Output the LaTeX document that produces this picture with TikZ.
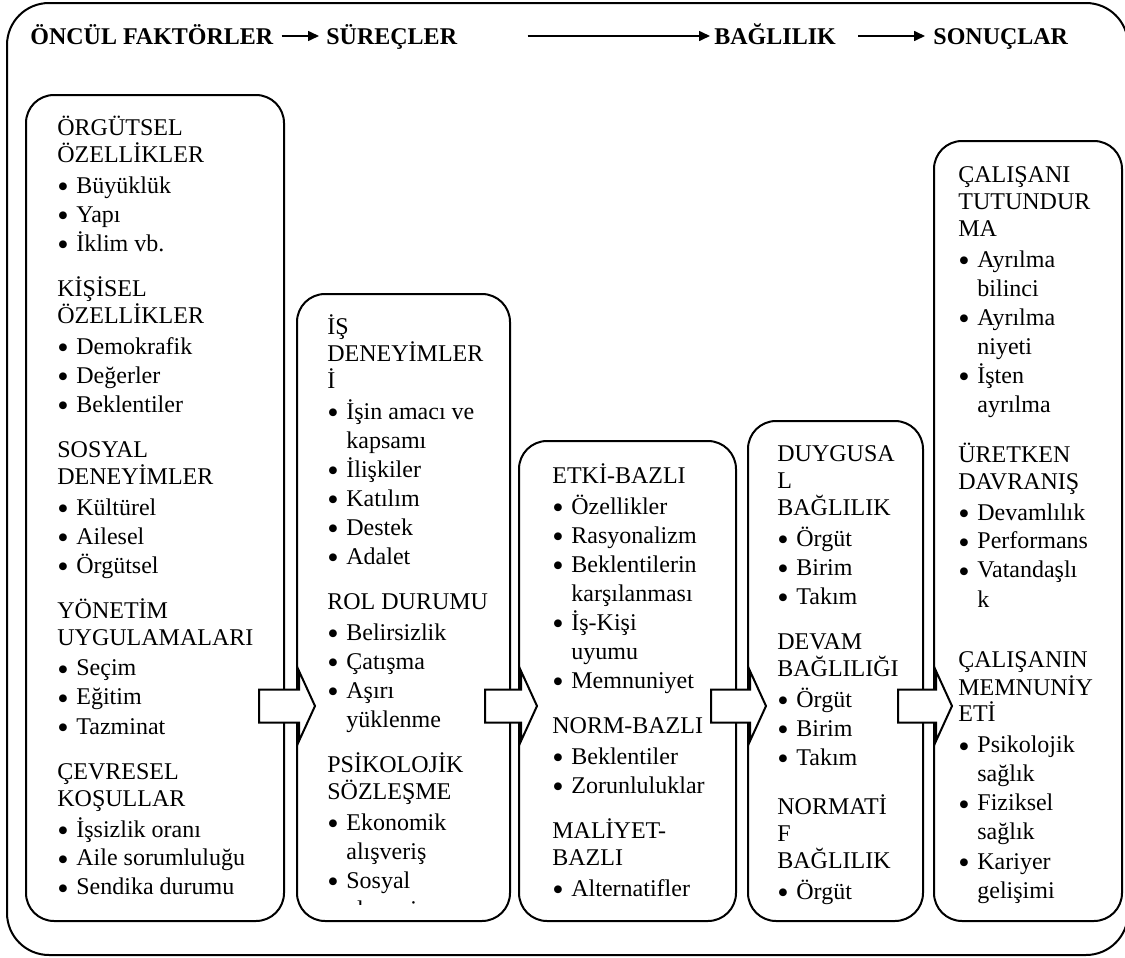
\documentclass[tikz,border=0pt]{standalone}
\usepackage{fontspec}
\setmainfont{Liberation Serif}
\usetikzlibrary{positioning,arrows.meta,calc}

\newcommand{\mad}{\makebox[9.5pt][l]{\raisebox{-2.4pt}[0pt][0pt]{\scalebox{1.35}{\textbullet}}}}
\newcommand{\gir}{\hspace*{9.5pt}}

\tikzset{
  kutu/.style={draw, line width=1pt, rounded corners=14pt, anchor=north west, inner sep=0pt},
  yazi/.style={anchor=base west, inner sep=0pt},
  baslik/.style={font=\fontsize{12pt}{14pt}\selectfont\bfseries, inner sep=0pt, text height=8pt, text depth=0pt, anchor=base west},
  ok/.style={line width=0.8pt, -{Triangle[length=5.5pt,width=5pt]}},
  blok/.style={draw, line width=1pt, fill=white, line join=miter},
}

\begin{document}
\begin{tikzpicture}[x=0.5pt, y=-0.5pt, font=\fontsize{12pt}{14.5pt}\selectfont]
\fill[white] (0,0) rectangle (1125,958);
\useasboundingbox (0,0) rectangle (1125,958);
\draw[line width=1pt, rounded corners=21pt] (7,3) rectangle (1128,955);

% ust satir
\node[baslik] (onc) at (30,44) {ÖNCÜL FAKTÖRLER};
\node[baslik] (sur) at (326,44) {SÜREÇLER};
\node[baslik] (bag) at (714,44) {BAĞLILIK};
\node[baslik] (son) at (933,44) {SONUÇLAR};
\draw[ok, shorten <=4pt, shorten >=3.5pt] (onc) -- (sur);
\draw[ok, shorten <=35pt, shorten >=2pt] (sur) -- (bag);
\draw[ok, shorten <=11pt, shorten >=4pt] (bag) -- (son);

% kutular
\node[kutu, minimum width=129pt, minimum height=413pt] (b1) at (25,94) {};
\node[kutu, minimum width=106.5pt, minimum height=313.5pt] (b2) at (296,293) {};
\node[kutu, minimum width=108.5pt, minimum height=240pt] (b3) at (518,440) {};
\node[kutu, minimum width=87.5pt, minimum height=250pt] (b4) at (747,420) {};
\node[kutu, minimum width=94pt, minimum height=390pt] (b5) at (933,140) {};

\node[yazi] (t1) at (57,135) {\parbox[t]{125pt}{%
ÖRGÜTSEL\\[-1pt]
ÖZELLİKLER\\[1pt]
\mad Büyüklük\\
\mad Yapı\\
\mad İklim vb.\\[8pt]
KİŞİSEL\\[-1pt]
ÖZELLİKLER\\[1pt]
\mad Demokrafik\\
\mad Değerler\\
\mad Beklentiler\\[8pt]
SOSYAL\\[-1pt]
DENEYİMLER\\[1pt]
\mad Kültürel\\
\mad Ailesel\\
\mad Örgütsel\\[8pt]
YÖNETİM\\[-1pt]
UYGULAMALARI\\[1pt]
\mad Seçim\\
\mad Eğitim\\
\mad Tazminat\\[8pt]
ÇEVRESEL\\[-1pt]
KOŞULLAR\\[1pt]
\mad İşsizlik oranı\\
\mad Aile sorumluluğu\\
\mad Sendika durumu}};

\begin{scope}
\clip (290,280) rectangle (515,904);
\node[yazi] (t2) at (327,334) {\parbox[t]{100pt}{%
İŞ\\[-1pt]
DENEYİMLER\\[-1pt]
İ\\[1pt]
\mad İşin amacı ve\\
\gir kapsamı\\
\mad İlişkiler\\
\mad Katılım\\
\mad Destek\\
\mad Adalet\\[8pt]
ROL DURUMU\\[1pt]
\mad Belirsizlik\\
\mad Çatışma\\
\mad Aşırı\\
\gir yüklenme\\[8pt]
PSİKOLOJİK\\[-1pt]
SÖZLEŞME\\[1pt]
\mad Ekonomik\\
\gir alışveriş\\
\mad Sosyal\\
\gir alışveriş}};
\end{scope}

\node[yazi] (t3) at (552,483) {\parbox[t]{100pt}{%
ETKİ-BAZLI\\[1pt]
\mad Özellikler\\
\mad Rasyonalizm\\
\mad Beklentilerin\\
\gir karşılanması\\
\mad İş-Kişi\\
\gir uyumu\\
\mad Memnuniyet\\[8pt]
NORM-BAZLI\\[1pt]
\mad Beklentiler\\
\mad Zorunluluklar\\[8pt]
MALİYET-\\[-1pt]
BAZLI\\[1pt]
\mad Alternatifler}};

\node[yazi] (t4) at (777,461) {\parbox[t]{80pt}{%
DUYGUSA\\[-1pt]
L\\[-1pt]
BAĞLILIK\\[1pt]
\mad Örgüt\\
\mad Birim\\
\mad Takım\\[8pt]
DEVAM\\[-1pt]
BAĞLILIĞI\\[1pt]
\mad Örgüt\\
\mad Birim\\
\mad Takım\\[10pt]
NORMATİ\\[-1pt]
F\\[-1pt]
BAĞLILIK\\[1pt]
\mad Örgüt}};

\node[yazi] (t5) at (958,182) {\parbox[t]{85pt}{%
ÇALIŞANI\\[-1pt]
TUTUNDUR\\[-1pt]
MA\\[1pt]
\mad Ayrılma\\
\gir bilinci\\
\mad Ayrılma\\
\gir niyeti\\
\mad İşten\\
\gir ayrılma\\[10.5pt]
ÜRETKEN\\[-1pt]
DAVRANIŞ\\[1pt]
\mad Devamlılık\\
\mad Performans\\
\mad Vatandaşlı\\
\gir k\\[16pt]
ÇALIŞANIN\\[-1pt]
MEMNUNİY\\[-1pt]
ETİ\\[1pt]
\mad Psikolojik\\
\gir sağlık\\
\mad Fiziksel\\
\gir sağlık\\
\mad Kariyer\\
\gir gelişimi}};

% kutular arasi oklar
\coordinate (okhiza) at (0,706);
\foreach \a/\b in {b1/b2,b2/b3,b3/b4,b4/b5}
  \draw[blok] ($(\a.east |- okhiza)+(-26,-16.5)$) -- ($(\b.west |- okhiza)+(3,-16.5)$)
    -- ++(0,-18.5) -- ($(\b.west |- okhiza)+(19,0)$) -- ++(-16,35) -- ++(0,-18.5)
    -- ($(\a.east |- okhiza)+(-26,16.5)$) -- cycle;
\end{tikzpicture}
\end{document}
